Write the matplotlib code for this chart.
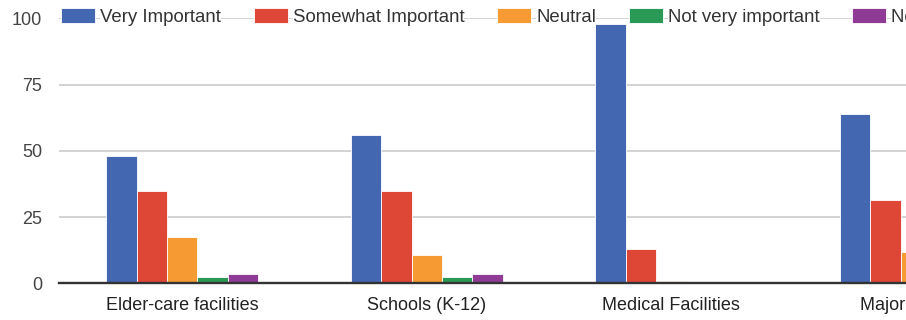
import numpy as np
import matplotlib
matplotlib.use("Agg")
import matplotlib.pyplot as plt

plt.rcParams['font.family'] = ['Liberation Sans', 'DejaVu Sans']

# data (last category is cut off at the right edge)
categories = ["Elder-care facilities", "Schools (K-12)", "Medical Facilities", "Major Airports"]
series = ["Very Important", "Somewhat Important", "Neutral", "Not very important", "Not at all important"]
very_important = [48, 56, 98, 64]
somewhat_important = [35, 35, 13, 31.5]
neutral = [17.5, 10.5, 1, 12]
not_very_important = [2.5, 2.5, 0, 1]
not_at_all_important = [3.5, 3.5, 0, 1]
yticks = [0, 25, 50, 75, 100]

colors = ["#4467b2", "#de4636", "#f69b33", "#2a9955", "#8f3b96"]
values = [very_important, somewhat_important, neutral, not_very_important, not_at_all_important]

fig = plt.figure(figsize=(9.06, 3.2), dpi=100)
# the plot area runs past the right edge of the picture (chart is cropped)
ax = fig.add_axes([59 / 906, 36.7 / 320, 856.7 / 906, 265 / 320])

x = np.arange(len(categories))
w = 0.1243
for i, (name, vals, c) in enumerate(zip(series, values, colors)):
    ax.bar(x + (i - 2) * w, vals, width=w, color=c, edgecolor="white",
           linewidth=0.6, label=name, zorder=2)

ax.set_ylim(0, 100)
ax.set_yticks(yticks)
ax.set_xticks(x)
ax.set_xticklabels(categories)
ax.set_xlim(-0.504, 3.0)
ax.grid(axis="y", color="#cccccc", linewidth=1.2, zorder=0)
ax.set_axisbelow(True)
for s in ["top", "right", "left"]:
    ax.spines[s].set_visible(False)
ax.spines["bottom"].set_color("#333333")
ax.spines["bottom"].set_linewidth(1.7)
ax.spines["bottom"].set_zorder(3)
ax.tick_params(axis="y", length=0, pad=12, labelsize=13, labelcolor="#444444")
ax.tick_params(axis="x", length=0, pad=10, labelsize=13, labelcolor="#222222")

leg = fig.legend(loc="center left", bbox_to_anchor=(61 / 906, 1 - 17 / 320),
                 ncol=5, frameon=False, fontsize=13.4, handlelength=1.83,
                 handleheight=0.86, handletextpad=0.27, columnspacing=1.76,
                 borderpad=0, borderaxespad=0)
for t in leg.get_texts():
    t.set_color("#333333")
    t.set_bbox(dict(facecolor="white", edgecolor="none", pad=0))

fig.savefig("out.png", dpi=100)
